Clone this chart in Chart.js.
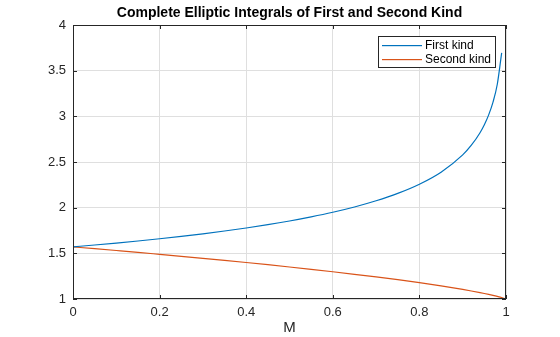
<!DOCTYPE html>
<html>
<head>
<meta charset="utf-8">
<script src="https://cdn.jsdelivr.net/npm/chart.js@4"></script>
<style>
  html, body { margin: 0; padding: 0; background: #fff; }
  #wrap { width: 560px; height: 337px; }
</style>
</head>
<body>
<div id="wrap"><canvas id="ellipke"></canvas></div>
<script>
// parametr M va integral qiymatlari (rasmdan o'qilgan)
const mValues = [0, 0.05, 0.1, 0.15, 0.2, 0.25, 0.3, 0.35, 0.4, 0.45, 0.5, 0.55, 0.6, 0.65, 0.7, 0.75, 0.8, 0.85, 0.9, 0.92, 0.94, 0.95, 0.96, 0.97, 0.98, 0.99, 1];
const firstKind = [1.5708, 1.5910, 1.6124, 1.6350, 1.6596, 1.6858, 1.7139, 1.7443, 1.7775, 1.8138, 1.8541, 1.8992, 1.9496, 2.0076, 2.0754, 2.1565, 2.2572, 2.3890, 2.5781, 2.6835, 2.8209, 2.9083, 3.0161, 3.1560, 3.3541, 3.6956, null];
const secondKind = [1.5708, 1.5509, 1.5308, 1.5104, 1.4890, 1.4675, 1.4454, 1.4227, 1.3994, 1.3754, 1.3506, 1.3249, 1.2984, 1.2705, 1.2417, 1.2111, 1.1785, 1.1434, 1.1048, 1.0878, 1.0700, 1.0605, 1.0505, 1.0400, 1.0286, 1.0160, 1.0];
const xTicks = [0, 0.2, 0.4, 0.6, 0.8, 1];
const yTicks = [1, 1.5, 2, 2.5, 3, 3.5, 4];
const seriesNames = ['First kind', 'Second kind'];
const seriesColors = ['#0072BD', '#D95319'];

const textColor = '#262626';
const fontName = '"Liberation Sans", Arial, Helvetica, sans-serif';

// ramka, ichki chiziqchalar, sarlavha va legenda
const matlabFrame = {
    id: 'matlabFrame',
    afterDatasetsDraw(chart) {
        const c = chart.ctx;
        const a = chart.chartArea;
        const xs = chart.scales.x, ys = chart.scales.y;
        c.save();
        c.strokeStyle = textColor;
        c.lineWidth = 1;
        c.strokeRect(Math.round(a.left) + 0.5, Math.round(a.top) + 0.5,
            Math.round(a.right - a.left) - 1, Math.round(a.bottom - a.top) - 1);
        c.beginPath();
        xTicks.forEach(v => {
            const px = Math.round(xs.getPixelForValue(v)) + 0.5;
            c.moveTo(px, a.bottom); c.lineTo(px, a.bottom - 4);
            c.moveTo(px, a.top); c.lineTo(px, a.top + 4);
        });
        yTicks.forEach(v => {
            const py = Math.round(ys.getPixelForValue(v)) + 0.5;
            c.moveTo(a.left, py); c.lineTo(a.left + 4, py);
            c.moveTo(a.right, py); c.lineTo(a.right - 4, py);
        });
        c.stroke();

        // sarlavha
        c.fillStyle = '#000';
        c.font = 'bold 14px ' + fontName;
        c.textAlign = 'center';
        c.textBaseline = 'middle';
        c.fillText('Complete Elliptic Integrals of First and Second Kind', (a.left + a.right) / 2, 13);

        // legenda
        const bx = 378.5, by = 36.5, bw = 117, bh = 31;
        c.fillStyle = '#fff';
        c.fillRect(bx, by, bw, bh);
        c.strokeStyle = textColor;
        c.strokeRect(bx, by, bw, bh);
        c.font = '12px ' + fontName;
        c.textAlign = 'left';
        seriesNames.forEach((name, i) => {
            const ly = 45 + i * 14;
            c.fillStyle = seriesColors[i];
            c.fillRect(382, ly, 40, 1.2);
            c.fillStyle = '#000';
            c.fillText(name, 425, ly + 0.5);
        });
        c.restore();
    }
};

const ctx = document.getElementById('ellipke').getContext('2d');
new Chart(ctx, {
    type: 'line',
    data: {
        datasets: [{
            label: seriesNames[0],
            data: mValues.map((m, i) => ({ x: m, y: firstKind[i] })),
            borderColor: seriesColors[0],
            borderWidth: 1.2,
            pointRadius: 0,
            cubicInterpolationMode: 'monotone',
            fill: false
        }, {
            label: seriesNames[1],
            data: mValues.map((m, i) => ({ x: m, y: secondKind[i] })),
            borderColor: seriesColors[1],
            borderWidth: 1.2,
            pointRadius: 0,
            cubicInterpolationMode: 'monotone',
            fill: false
        }]
    },
    options: {
        responsive: true,
        maintainAspectRatio: false,
        animation: false,
        spanGaps: false,
        layout: { padding: { left: 0, right: 54, top: 25, bottom: 0 } },
        plugins: {
            legend: { display: false },
            title: { display: false },
            tooltip: { enabled: false }
        },
        scales: {
            x: {
                type: 'linear',
                min: 0, max: 1,
                afterBuildTicks: s => { s.ticks = xTicks.map(v => ({ value: v })); },
                afterFit: s => { s.height = 38; },
                grid: { color: '#dfdfdf', drawTicks: false },
                border: { display: false },
                ticks: {
                    color: textColor, padding: 6,
                    font: { family: fontName, size: 13 },
                    callback: v => String(v)
                },
                title: {
                    display: true, text: 'M', color: textColor,
                    font: { family: fontName, size: 15 },
                    padding: { top: 0, bottom: 0 }
                }
            },
            y: {
                min: 1, max: 4,
                afterBuildTicks: s => { s.ticks = yTicks.map(v => ({ value: v })); },
                afterFit: s => { s.width = 73; },
                grid: { color: '#dfdfdf', drawTicks: false },
                border: { display: false },
                ticks: {
                    color: textColor, padding: 7,
                    font: { family: fontName, size: 13 },
                    callback: v => String(v)
                }
            }
        }
    },
    plugins: [matlabFrame]
});
</script>
</body>
</html>
